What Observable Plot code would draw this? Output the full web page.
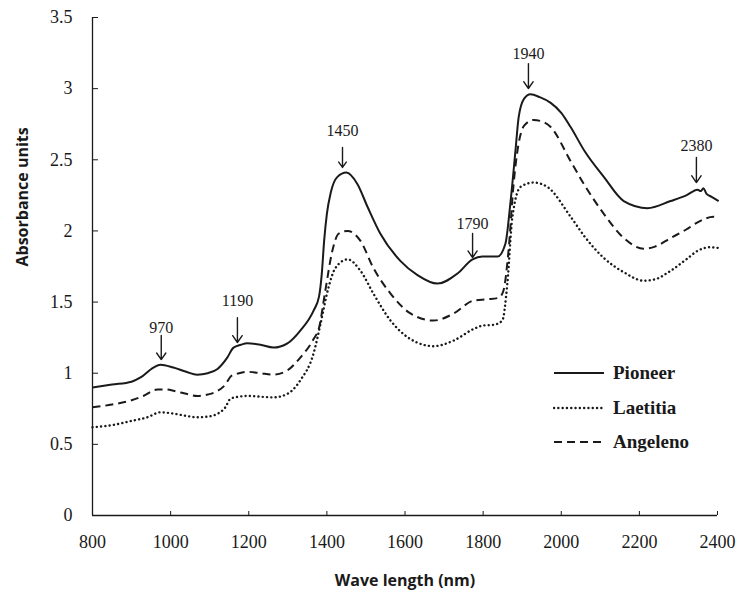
<!DOCTYPE html>
<html>
<head>
<meta charset="utf-8">
<script src="https://cdn.jsdelivr.net/npm/d3@7"></script>
<script src="https://cdn.jsdelivr.net/npm/@observablehq/plot@0.6"></script>
<style>
  html, body { margin: 0; padding: 0; background: #fff; }
  #wrap { position: relative; width: 738px; height: 594px; }
  #legend { position: absolute; left: 553px; top: 356px; font-family: "Liberation Serif", "Times New Roman", serif; font-weight: bold; font-size: 19px; color: #1a1a1a; }
  #legend .row { display: flex; align-items: center; height: 34.5px; }
  #legend svg { margin-right: 8px; }
</style>
</head>
<body>
<div id="wrap"><div id="legend"></div></div>
<script>
// ---- data ----
const pioneerNm  = [800,850,900,923,956,974,1007,1040,1068,1095,1120,1145,1161,1180,1196,1230,1263,1299,1332,1366,1380,1387,1393,1400,1410,1427,1450,1478,1504,1537,1588,1632,1683,1734,1773,1798,1837,1857,1870,1883,1891,1905,1921,1945,1973,2000,2024,2060,2109,2160,2221,2280,2320,2349,2357,2364,2372,2385,2403];
const pioneerAbs = [0.90,0.92,0.94,0.97,1.04,1.06,1.04,1.01,0.99,1.00,1.03,1.11,1.18,1.20,1.21,1.20,1.18,1.21,1.30,1.44,1.54,1.70,1.93,2.12,2.27,2.38,2.41,2.33,2.17,1.98,1.79,1.69,1.63,1.70,1.80,1.82,1.82,1.91,2.20,2.57,2.80,2.93,2.96,2.94,2.90,2.83,2.73,2.56,2.38,2.21,2.16,2.21,2.25,2.29,2.28,2.30,2.26,2.24,2.21];

const laetitiaNm  = [800,850,900,940,974,1010,1040,1068,1095,1120,1140,1153,1175,1196,1230,1263,1299,1332,1366,1384,1402,1422,1453,1486,1519,1563,1614,1673,1725,1775,1800,1827,1849,1862,1875,1896,1929,1964,2024,2060,2109,2160,2211,2240,2280,2320,2349,2380,2403];
const laetitiaAbs = [0.62,0.635,0.665,0.69,0.725,0.715,0.70,0.69,0.695,0.715,0.76,0.82,0.835,0.84,0.835,0.83,0.855,0.95,1.14,1.35,1.58,1.74,1.80,1.72,1.56,1.37,1.24,1.19,1.23,1.31,1.335,1.34,1.37,1.63,2.10,2.31,2.34,2.31,2.10,1.96,1.81,1.71,1.65,1.66,1.72,1.80,1.86,1.885,1.88];

const angelenoNm  = [800,850,900,930,966,990,1010,1040,1068,1095,1120,1140,1155,1175,1196,1230,1263,1299,1332,1366,1380,1396,1414,1430,1453,1486,1519,1563,1614,1673,1725,1775,1810,1840,1852,1865,1878,1890,1905,1929,1950,1973,2024,2060,2109,2160,2211,2240,2280,2320,2349,2390,2403];
const angelenoAbs = [0.76,0.78,0.81,0.84,0.885,0.885,0.875,0.855,0.84,0.85,0.875,0.92,0.98,1.00,1.01,1.00,0.99,1.02,1.11,1.24,1.32,1.58,1.86,1.98,2.00,1.93,1.74,1.56,1.42,1.37,1.42,1.51,1.52,1.53,1.58,1.86,2.33,2.60,2.74,2.78,2.77,2.73,2.49,2.32,2.12,1.95,1.875,1.89,1.95,2.01,2.06,2.10,2.09];

// peak annotations
const peakLabels = ["970","1190","1450","1790","1940","2380"];
const arrowNm    = [976,1171,1440,1773,1916,2346];
const arrowTail  = [1.265,1.391,2.586,1.982,3.176,2.516];
const arrowTip   = [1.096,1.216,2.446,1.813,3.001,2.340];
const labelAbs   = [1.32,1.51,2.70,2.05,3.245,2.595];

const seriesNames = ["Pioneer","Laetitia","Angeleno"];
const xTicks = [800,1000,1200,1400,1600,1800,2000,2200,2400];
const yTicks = [0,0.5,1,1.5,2,2.5,3,3.5];
const xTitle = "Wave length (nm)";
const yTitle = "Absorbance units";

// ---- build ----
const toRows = (nm, abs) => nm.map((x, i) => ({nm: x, abs: abs[i]}));
const pioneer = toRows(pioneerNm, pioneerAbs);
const laetitia = toRows(laetitiaNm, laetitiaAbs);
const angeleno = toRows(angelenoNm, angelenoAbs);
const peaks = peakLabels.map((t, i) => ({t, x: arrowNm[i], y1: arrowTail[i], y2: arrowTip[i], ly: labelAbs[i]}));

const serif = "'Liberation Serif', 'Times New Roman', serif";
const sans = "'Open Sans', 'Liberation Sans', Arial, sans-serif";
const ink = "#1a1a1a";

const styles = {
  Pioneer:  {strokeWidth: 2, strokeDasharray: null, strokeLinecap: "butt"},
  Laetitia: {strokeWidth: 2.4, strokeDasharray: "0.1,4.2", strokeLinecap: "round"},
  Angeleno: {strokeWidth: 2, strokeDasharray: "8,5", strokeLinecap: "butt"}
};

const chart = Plot.plot({
  width: 738,
  height: 594,
  marginLeft: 92,
  marginRight: 21,
  marginTop: 17,
  marginBottom: 79,
  style: {background: "#fff", color: ink},
  x: {domain: [800, 2400]},
  y: {domain: [0, 3.5]},
  marks: [
    Plot.ruleX([800], {stroke: ink, strokeWidth: 1.3}),
    Plot.ruleY([0], {stroke: ink, strokeWidth: 1.3}),
    Plot.axisX({ticks: xTicks, tickSize: -4, tickFormat: () => "", label: null, stroke: ink}),
    Plot.axisY({ticks: yTicks, tickSize: -6, tickFormat: () => "", label: null, stroke: ink}),
    Plot.text(xTicks, {x: d => d, frameAnchor: "bottom", dy: 32, text: d => String(d), fontSize: 18, fontFamily: serif, fill: ink}),
    Plot.text(yTicks, {y: d => d, frameAnchor: "left", dx: -20, textAnchor: "end", text: d => String(d), fontSize: 18, fontFamily: serif, fill: ink}),
    Plot.line(laetitia, {x: "nm", y: "abs", stroke: ink, curve: "monotone-x", ...styles.Laetitia}),
    Plot.line(angeleno, {x: "nm", y: "abs", stroke: ink, curve: "monotone-x", ...styles.Angeleno}),
    Plot.line(pioneer, {x: "nm", y: "abs", stroke: ink, curve: "monotone-x", ...styles.Pioneer}),
    Plot.arrow(peaks, {x1: "x", x2: "x", y1: "y1", y2: "y2", stroke: ink, strokeWidth: 1.4, headLength: 9, headAngle: 70}),
    Plot.text(peaks, {x: "x", y: "ly", text: "t", fontSize: 16, fontFamily: serif, fill: ink}),
    Plot.text([xTitle], {frameAnchor: "bottom", dy: 70, fontSize: 16, fontWeight: "bold", fontFamily: sans, fill: ink}),
    Plot.text([yTitle], {frameAnchor: "left", dx: -70, rotate: -90, fontSize: 16, fontWeight: "bold", fontFamily: sans, fill: ink})
  ]
});
const wrap = document.getElementById("wrap");
wrap.insertBefore(chart, wrap.firstChild);

// legend
const legend = document.getElementById("legend");
for (const name of seriesNames) {
  const s = styles[name];
  const row = document.createElement("div");
  row.className = "row";
  row.innerHTML = `<svg width="52" height="10"><line x1="1" y1="5" x2="51" y2="5" stroke="${ink}" stroke-width="${s.strokeWidth}" ${s.strokeDasharray ? `stroke-dasharray="${s.strokeDasharray}"` : ""} stroke-linecap="${s.strokeLinecap}"/></svg><span>${name}</span>`;
  legend.appendChild(row);
}
</script>
</body>
</html>
